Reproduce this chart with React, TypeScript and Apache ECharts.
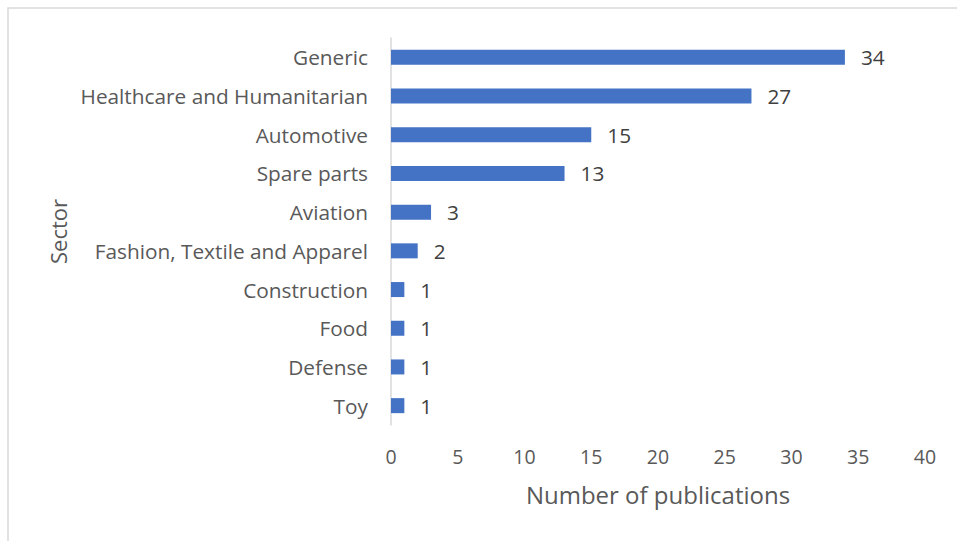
import React, { useEffect, useRef } from "react";
import * as echarts from "echarts";

const categories = [
  "Generic",
  "Healthcare and Humanitarian",
  "Automotive",
  "Spare parts",
  "Aviation",
  "Fashion, Textile and Apparel",
  "Construction",
  "Food",
  "Defense",
  "Toy",
];
const publications = [34, 27, 15, 13, 3, 2, 1, 1, 1, 1];
const xMin = 0;
const xMax = 40;
const xInterval = 5;

const FONT = "'Open Sans', 'Noto Sans', sans-serif";

export default function App() {
  const ref = useRef<HTMLDivElement>(null);
  useEffect(() => {
    document.body.style.margin = "0";
    const chart = echarts.init(ref.current!, null, { renderer: "svg" });
    chart.setOption({
      animation: false,
      backgroundColor: "#ffffff",
      textStyle: { fontFamily: FONT },
      graphic: [
        {
          type: "rect",
          shape: { x: 8, y: 8, width: 1200, height: 1200 },
          style: { fill: "none", stroke: "#d9d9d9", lineWidth: 1.5 },
          silent: true,
        },
      ],
      grid: { left: 391, right: 32, top: 38, bottom: 116, containLabel: false },
      xAxis: {
        type: "value",
        min: xMin,
        max: xMax,
        interval: xInterval,
        axisLine: { show: false },
        axisTick: { show: false },
        splitLine: { show: false },
        axisLabel: { color: "#595959", fontSize: 19.5, margin: 21, fontFamily: FONT },
        name: "Number of publications",
        nameLocation: "middle",
        nameGap: 57,
        nameTextStyle: { color: "#595959", fontSize: 24, fontFamily: FONT },
      },
      yAxis: {
        type: "category",
        data: categories,
        inverse: true,
        axisLine: { show: true, lineStyle: { color: "#d9d9d9", width: 1.5 } },
        axisTick: { show: false },
        splitLine: { show: false },
        axisLabel: { color: "#595959", fontSize: 20.8, margin: 23, fontFamily: FONT },
        name: "Sector",
        nameLocation: "middle",
        nameGap: 322,
        nameRotate: 90,
        nameTextStyle: { color: "#595959", fontSize: 22, fontFamily: FONT },
      },
      series: [
        {
          type: "bar",
          data: publications,
          barWidth: 15,
          itemStyle: { color: "#4472c4" },
          label: {
            show: true,
            position: "right",
            distance: 16,
            color: "#404040",
            fontSize: 20.8,
            fontFamily: FONT,
          },
        },
      ],
    });
    return () => chart.dispose();
  }, []);
  return <div ref={ref} style={{ width: 957, height: 541 }} />;
}
